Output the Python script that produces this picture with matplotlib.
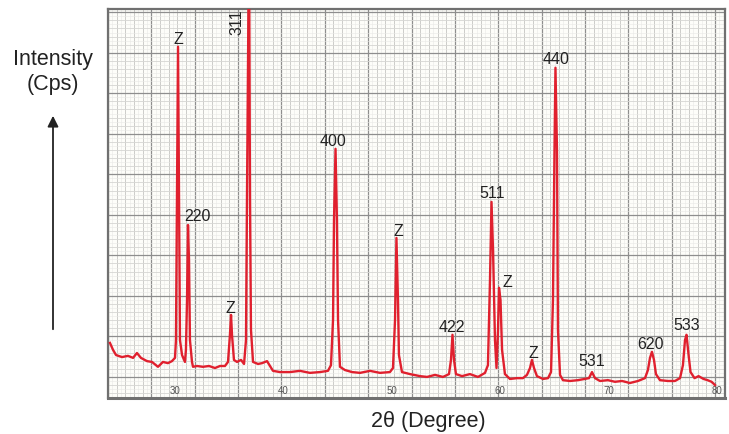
import matplotlib.pyplot as plt
import numpy as np
from matplotlib.patches import FancyArrowPatch

plt.rcParams["font.family"] = ["Liberation Sans", "DejaVu Sans"]

# XRD trace: 2theta (deg) vs intensity (cps, arbitrary)
TWO_THETA = [
    24.00, 24.28, 24.56, 25.11, 25.66, 26.13, 26.49, 26.86, 27.42, 27.88,
    28.43, 28.89, 29.35, 29.72, 30.00, 30.09, 30.18, 30.28, 30.37, 30.46,
    30.65, 30.92, 31.01, 31.11, 31.20, 31.29, 31.38, 31.57, 31.66, 32.03,
    32.58, 33.14, 33.69, 34.15, 34.61, 34.89, 35.07, 35.17, 35.26, 35.44,
    35.72, 36.09, 36.37, 36.55, 36.64, 36.83, 36.92, 37.01, 37.20, 37.66,
    38.03, 38.49, 38.76, 39.04, 39.69, 40.61, 41.53, 42.45, 43.38, 44.11,
    44.39, 44.58, 44.67, 44.81, 44.94, 45.04, 45.22, 45.68, 46.33, 47.07,
    47.99, 48.91, 49.83, 50.11, 50.30, 50.43, 50.57, 50.66, 50.94, 51.68,
    52.60, 53.25, 53.99, 54.72, 55.28, 55.46, 55.60, 55.74, 55.92, 56.48,
    57.21, 57.95, 58.60, 58.87, 59.06, 59.20, 59.34, 59.52, 59.66, 59.80,
    59.89, 60.03, 60.17, 60.44, 60.90, 61.55, 62.10, 62.47, 62.75, 62.93,
    63.12, 63.39, 63.95, 64.41, 64.69, 64.87, 65.01, 65.10, 65.24, 65.33,
    65.52, 65.79, 66.44, 67.18, 67.82, 68.19, 68.47, 68.75, 69.21, 69.94,
    70.59, 71.24, 71.97, 72.71, 73.36, 73.63, 73.82, 74.00, 74.19, 74.37,
    74.74, 75.48, 76.12, 76.59, 76.86, 77.05, 77.19, 77.38, 77.56, 77.93,
    78.30, 78.76, 79.13, 79.50, 79.82,
]
INTENSITY = [
    136, 119, 106, 101, 104, 99, 111, 99, 91, 89,
    77, 89, 86, 91, 99, 143, 489, 867, 489, 143,
    106, 89, 119, 242, 427, 341, 143, 89, 77, 79,
    77, 79, 74, 79, 79, 89, 156, 205, 156, 94,
    89, 94, 84, 143, 489, 1150, 489, 168, 89, 84,
    86, 91, 79, 67, 64, 64, 67, 62, 64, 67,
    81, 193, 439, 615, 439, 193, 77, 69, 64, 62,
    67, 62, 64, 74, 193, 395, 242, 106, 64, 59,
    54, 52, 57, 52, 59, 94, 156, 94, 59, 54,
    59, 52, 62, 81, 291, 484, 365, 143, 74, 168,
    272, 242, 119, 59, 47, 49, 49, 57, 74, 94,
    74, 54, 47, 49, 64, 242, 612, 815, 612, 168,
    57, 44, 42, 44, 47, 49, 64, 49, 42, 44,
    40, 42, 37, 42, 49, 69, 99, 114, 94, 59,
    44, 42, 42, 49, 81, 143, 156, 106, 64, 49,
    54, 47, 44, 40, 32,
]

# peak annotations (Miller indices, Z = impurity)
PEAK_LABELS = ["Z", "220", "Z", "311", "400", "Z", "422", "511", "Z", "Z", "440", "531", "620", "533"]
PEAK_LABEL_X = [30.28, 32.03, 35.07, 35.72, 44.58, 50.57, 55.55, 59.24, 60.63, 63.03, 65.15, 68.47, 73.91, 77.23]
PEAK_LABEL_Y = [884, 447, 222, 928, 632, 412, 175, 504, 286, 111, 835, 89, 133, 178]

X_TICKS = [30, 40, 50, 60, 70, 80]

XLIM = (23.82, 80.74)
YLIM = (0, 960)


def graph_paper(ax):
    # three levels of ruling like the scanned chart paper
    x0 = XLIM[0]
    for step, color, lw in ((0.4, "#e9e9e6", 0.4), (0.8, "#c6c6c3", 0.6), (4.0, "#8e8e8e", 0.9)):
        ax.vlines(np.arange(x0, XLIM[1], step), *YLIM, colors=color, lw=lw, zorder=0.5)
    for step, color, lw in ((10, "#e9e9e6", 0.4), (20, "#d2d2cf", 0.5), (100, "#8e8e8e", 0.9)):
        ax.hlines(np.arange(52 % step, YLIM[1], step), *XLIM, colors=color, lw=lw, zorder=0.5)


def plot():
    fig = plt.figure(figsize=(7.29, 4.34), dpi=100)
    ax = fig.add_axes([108 / 729, 36 / 434, 617 / 729, 389 / 434])
    ax.set_facecolor("#fdfdf9")
    graph_paper(ax)

    ax.plot(TWO_THETA, INTENSITY, color="#e0202e", lw=1.7, zorder=3, solid_joinstyle="round")

    for text, x, y in zip(PEAK_LABELS, PEAK_LABEL_X, PEAK_LABEL_Y):
        rot = 90 if text == "311" else 0
        ax.text(x, y, text, ha="center", va="center", fontsize=11.5, color="#222222",
                rotation=rot, zorder=4)

    ax.set_xlim(XLIM)
    ax.set_ylim(YLIM)
    ax.set_xticks(X_TICKS)
    ax.set_xticklabels([str(t) for t in X_TICKS])
    ax.set_yticks([])
    ax.tick_params(axis="x", length=0, pad=-9, labelsize=7, labelcolor="#555555")
    for side in ax.spines.values():
        side.set_color("#707070")
        side.set_linewidth(1.6)
    ax.spines["bottom"].set_linewidth(2.2)

    fig.text(53 / 729, 1 - 72 / 434, "Intensity\n(Cps)", ha="center", va="center",
             fontsize=15.5, color="#222222")
    fig.text(428 / 729, 1 - 421 / 434, "2θ (Degree)", ha="center", va="center",
             fontsize=15.5, color="#222222")
    fig.patches.append(FancyArrowPatch(
        (53 / 729, 1 - 332 / 434), (53 / 729, 1 - 113 / 434), transform=fig.transFigure,
        arrowstyle="-|>", mutation_scale=16, lw=1.3, color="#222222"))

    fig.savefig("out.png", dpi=100)
    plt.close(fig)


if __name__ == "__main__":
    plot()
